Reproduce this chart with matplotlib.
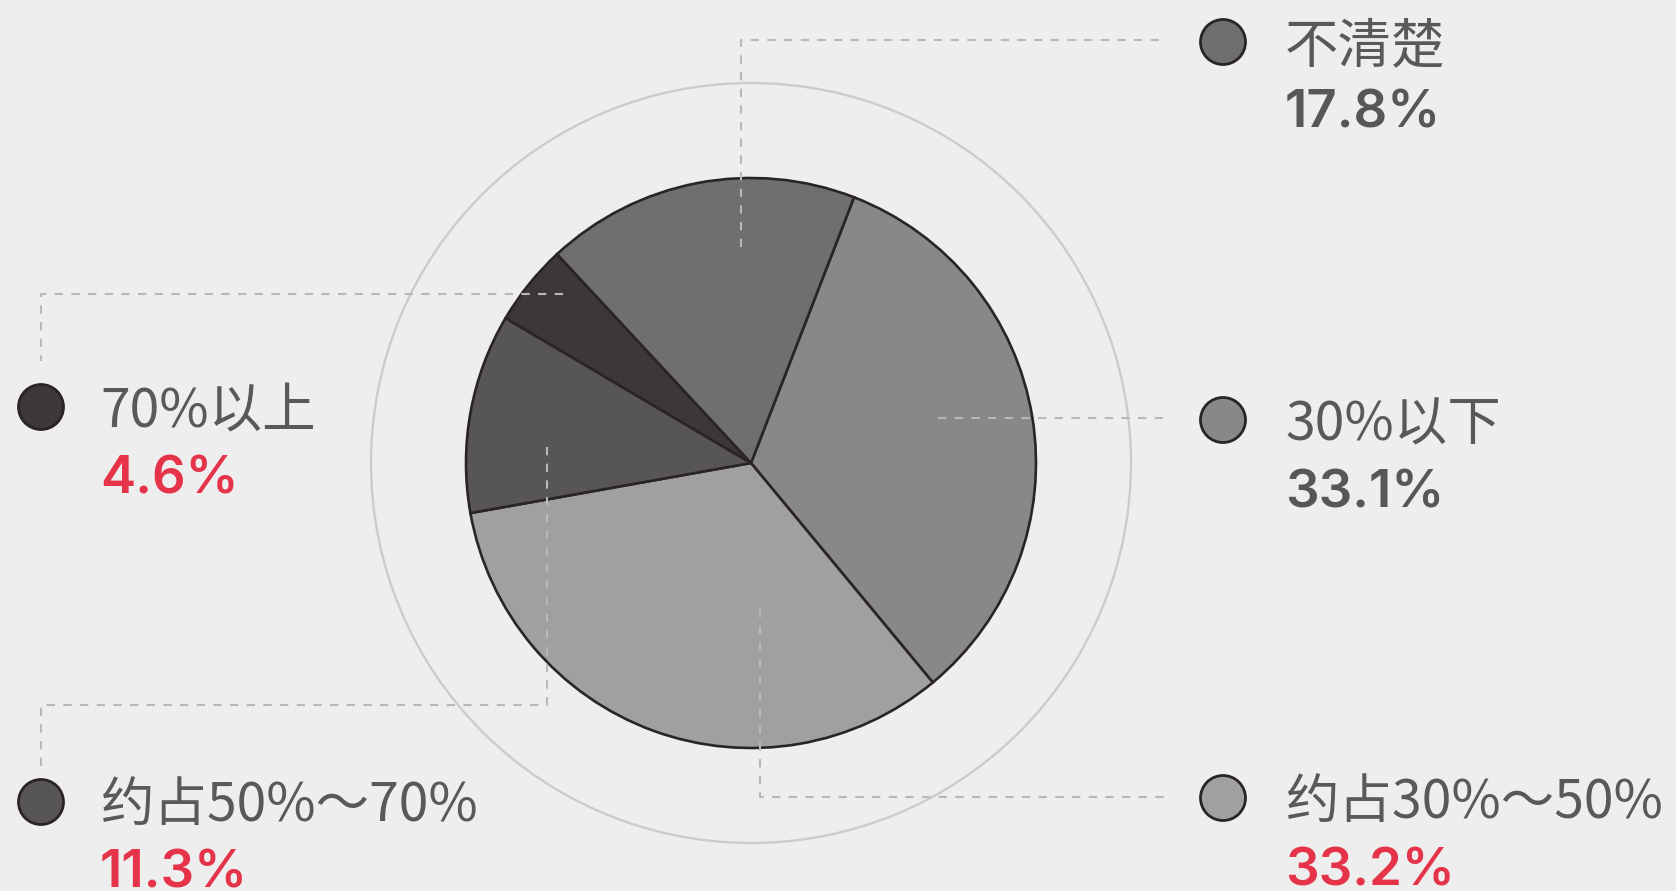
import matplotlib
matplotlib.use('Agg')
import matplotlib.pyplot as plt
from matplotlib.patches import Circle

# answer categories, clockwise from the upper right
categories = ['30%以下', '约占30%～50%', '约占50%～70%', '70%以上', '不清楚']
shares = [33.1, 33.2, 11.3, 4.6, 17.8]
slice_colors = ['#888888', '#a0a0a0', '#575555', '#3d3837', '#6f6f6f']
value_colors = ['#575757', '#e5334a', '#e5334a', '#e5334a', '#575757']

W, H = 1676, 891
BG = '#eeeeee'
EDGE = '#2b2424'
LEADER = '#b8b8b8'
CX, CY, R = 751, 463, 285

# legend block per category: marker centre, text left edge, label / value baselines
legend_pos = [
    (1223, 420, 1285, 440, 507),
    (1223, 798, 1285, 818, 885),
    (41, 802, 100, 821, 887),
    (41, 407, 100, 427, 493),
    (1223, 42, 1285, 62, 128),
]
# dashed leader lines (pixel coordinates, y grows downward)
leaders = [
    [(938, 418), (1170, 418)],
    [(760, 609), (760, 797), (1172, 797)],
    [(547, 447), (547, 705), (41, 705), (41, 771)],
    [(563, 294), (41, 294), (41, 361)],
    [(741, 247), (741, 40), (1167, 40)],
]

fig = plt.figure(figsize=(W / 100, H / 100), dpi=100, facecolor=BG)
ax = fig.add_axes([0, 0, 1, 1])
ax.set_facecolor(BG)

# y axis is flipped below, so counterclockwise in data = clockwise on screen
ax.pie(shares, colors=slice_colors, startangle=-68.8, counterclock=True,
       center=(CX, CY), radius=R,
       wedgeprops=dict(edgecolor=EDGE, linewidth=1.9, zorder=2))

ax.add_patch(Circle((CX, CY), 380, fill=False, ec='#cccccc', lw=1.7, zorder=1))

for path in leaders:
    xs = [p[0] for p in path]
    ys = [p[1] for p in path]
    ax.plot(xs, ys, color=LEADER, lw=1.5, ls=(0, (4, 4)), zorder=4,
            dash_capstyle='butt')

cjk = ['Noto Sans CJK SC', 'DejaVu Sans']
for name, val, fc, vc, (mx, my, tx, ly, vy) in zip(
        categories, shares, slice_colors, value_colors, legend_pos):
    ax.add_patch(Circle((mx, my), 22.5, fc=fc, ec=EDGE, lw=2, zorder=5))
    ax.text(tx, ly, name, fontsize=38.5, family=cjk, color='#595959',
            ha='left', va='baseline')
    ax.text(tx, vy, f'{val}%', fontsize=38, family=['Inter', 'DejaVu Sans'],
            fontweight='semibold', color=vc, ha='left', va='baseline')

ax.set_xlim(0, W)
ax.set_ylim(H, 0)
ax.set_aspect('auto')
ax.axis('off')

fig.savefig('out.png', dpi=100, facecolor=BG)
